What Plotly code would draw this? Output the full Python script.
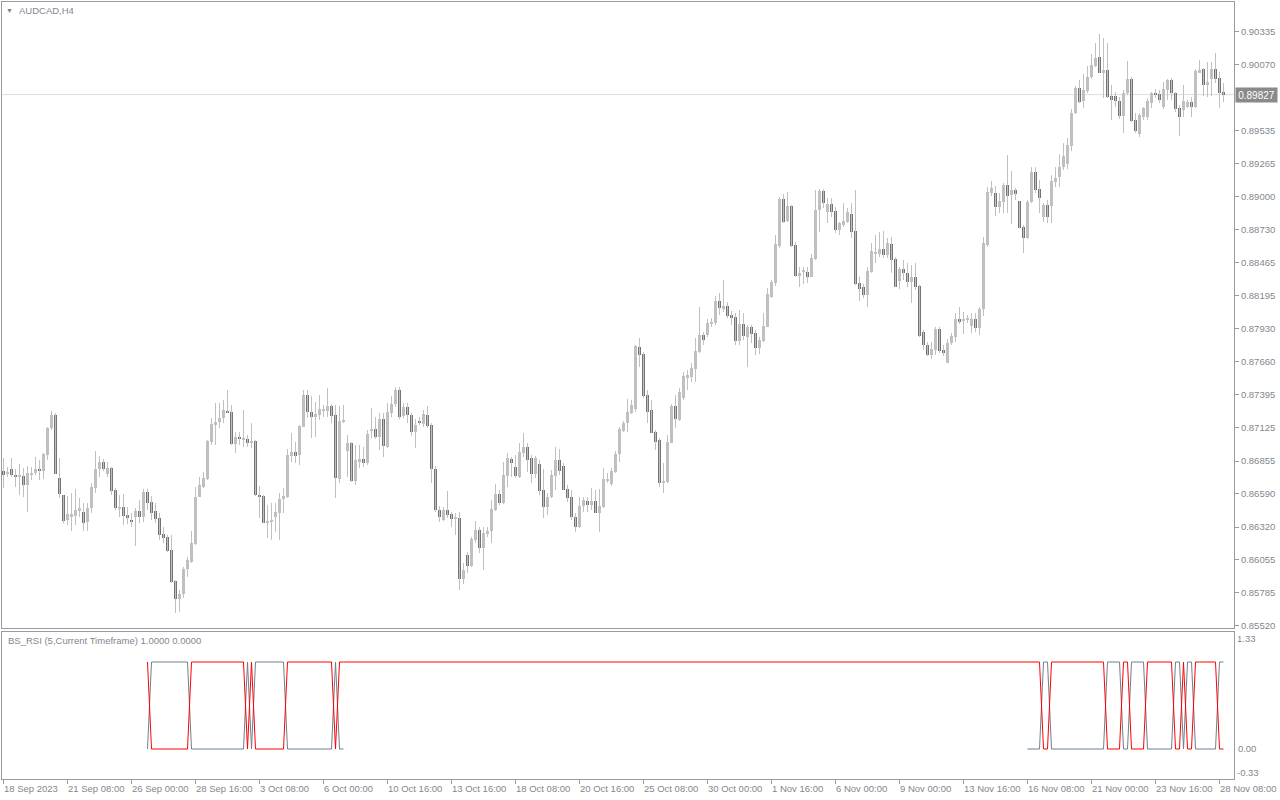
import plotly.graph_objects as go

symbol_title = "AUDCAD,H4"
indicator_title = "BS_RSI (5,Current Timeframe) 1.0000 0.0000"

opens = [
    0.86774, 0.86750, 0.86790, 0.86742, 0.86726, 0.86734, 0.86661, 0.86742, 0.86758, 0.86790,
    0.86774, 0.86904, 0.87123, 0.87228, 0.86717, 0.86580, 0.86377, 0.86409, 0.86409, 0.86450,
    0.86442, 0.86361, 0.86474, 0.86636, 0.86790, 0.86847, 0.86750, 0.86799, 0.86620, 0.86474,
    0.86482, 0.86417, 0.86369, 0.86401, 0.86450, 0.86401, 0.86604, 0.86523, 0.86450, 0.86393,
    0.86263, 0.86239, 0.86133, 0.85882, 0.85736, 0.85777, 0.85980, 0.86037, 0.86182, 0.86563,
    0.86644, 0.86709, 0.87010, 0.87147, 0.87172, 0.87204, 0.87261, 0.87253, 0.86993, 0.87050,
    0.87026, 0.87034, 0.87001, 0.87018, 0.86580, 0.86571, 0.86352, 0.86361, 0.86401, 0.86434,
    0.86547, 0.86563, 0.86896, 0.86928, 0.86904, 0.87131, 0.87390, 0.87253, 0.87212, 0.87228,
    0.87261, 0.87261, 0.87301, 0.87228, 0.86709, 0.87172, 0.86936, 0.87001, 0.86693, 0.86847,
    0.86871, 0.86839, 0.87099, 0.87115, 0.87050, 0.87196, 0.86969, 0.87245, 0.87318, 0.87431,
    0.87220, 0.87293, 0.87228, 0.87090, 0.87180, 0.87155, 0.87228, 0.87147, 0.86790, 0.86458,
    0.86377, 0.86458, 0.86425, 0.86385, 0.86393, 0.85898, 0.86093, 0.86004, 0.86215, 0.86296,
    0.86150, 0.86263, 0.86288, 0.86458, 0.86588, 0.86515, 0.86734, 0.86871, 0.86807, 0.86726,
    0.86920, 0.86969, 0.86880, 0.86750, 0.86831, 0.86620, 0.86482, 0.86563, 0.86734, 0.86863,
    0.86815, 0.86628, 0.86563, 0.86401, 0.86320, 0.86490, 0.86531, 0.86498, 0.86531, 0.86434,
    0.86482, 0.86701, 0.86669, 0.86766, 0.86912, 0.87099, 0.87163, 0.87245, 0.87277, 0.87780,
    0.87723, 0.87390, 0.87269, 0.87090, 0.87026, 0.86677, 0.86685, 0.87001, 0.87301, 0.87188,
    0.87366, 0.87529, 0.87537, 0.87601, 0.87739, 0.87877, 0.87877, 0.87974, 0.87974, 0.88153,
    0.88088, 0.88112, 0.88040, 0.88023, 0.87828, 0.87966, 0.87861, 0.87942, 0.87893, 0.87772,
    0.87828, 0.87942, 0.88185, 0.88299, 0.88599, 0.88980, 0.88802, 0.88923, 0.88607, 0.88358,
    0.88390, 0.88390, 0.88350, 0.88494, 0.88891, 0.89045, 0.88875, 0.88939, 0.88883, 0.88729,
    0.88769, 0.88794, 0.88858, 0.88721, 0.88299, 0.88266, 0.88202, 0.88390, 0.88542, 0.88534,
    0.88575, 0.88526, 0.88615, 0.88494, 0.88315, 0.88413, 0.88382, 0.88307, 0.88350, 0.88274,
    0.87901, 0.87796, 0.87715, 0.87755, 0.87926, 0.87755, 0.87650, 0.87812, 0.87861, 0.88007,
    0.87991, 0.87999, 0.87950, 0.88007, 0.87934, 0.88088, 0.88607, 0.89028, 0.89028, 0.88915,
    0.88956, 0.89093, 0.89012, 0.89053, 0.88964, 0.88753, 0.88664, 0.88956, 0.89198, 0.89061,
    0.88834, 0.88931, 0.88923, 0.89118, 0.89158, 0.89239, 0.89263, 0.89409, 0.89677, 0.89880,
    0.89774, 0.89856, 0.89970, 0.90059, 0.90132, 0.90002, 0.90026, 0.89815, 0.89815, 0.89775,
    0.89653, 0.89840, 0.89953, 0.89621, 0.89507, 0.89645, 0.89645, 0.89758, 0.89840, 0.89832,
    0.89726, 0.89864, 0.89945, 0.89840, 0.89718, 0.89702, 0.89726, 0.89766, 0.89726, 0.90010,
    0.90034, 0.89905, 0.89953, 0.90034, 0.89961, 0.89848,
]

highs = [
    0.86880, 0.86807, 0.86880, 0.86790, 0.86831, 0.86799, 0.86815, 0.86807, 0.86888, 0.86863,
    0.86920, 0.87131, 0.87261, 0.87245, 0.86880, 0.86580, 0.86571, 0.86596, 0.86628, 0.86555,
    0.86515, 0.86515, 0.86677, 0.86936, 0.86896, 0.86871, 0.86847, 0.86807, 0.86636, 0.86580,
    0.86588, 0.86482, 0.86434, 0.86474, 0.86539, 0.86628, 0.86628, 0.86571, 0.86515, 0.86434,
    0.86320, 0.86255, 0.86255, 0.85890, 0.85809, 0.85996, 0.86077, 0.86288, 0.86644, 0.86726,
    0.86766, 0.87026, 0.87204, 0.87326, 0.87326, 0.87350, 0.87431, 0.87309, 0.87090, 0.87090,
    0.87269, 0.87066, 0.87163, 0.87026, 0.86652, 0.86580, 0.86498, 0.86515, 0.86515, 0.86596,
    0.86636, 0.86953, 0.87082, 0.87010, 0.87147, 0.87431, 0.87431, 0.87382, 0.87334, 0.87390,
    0.87309, 0.87447, 0.87318, 0.87309, 0.87301, 0.87309, 0.87066, 0.87010, 0.86985, 0.86985,
    0.86969, 0.87107, 0.87285, 0.87212, 0.87245, 0.87245, 0.87326, 0.87382, 0.87455, 0.87455,
    0.87326, 0.87326, 0.87245, 0.87196, 0.87212, 0.87269, 0.87301, 0.87163, 0.86815, 0.86490,
    0.86482, 0.86612, 0.86442, 0.86434, 0.86442, 0.86029, 0.86117, 0.86239, 0.86369, 0.86320,
    0.86320, 0.86320, 0.86539, 0.86669, 0.86620, 0.86847, 0.86920, 0.86888, 0.86904, 0.87001,
    0.87082, 0.87001, 0.86904, 0.86896, 0.86863, 0.86790, 0.86596, 0.86782, 0.86969, 0.86953,
    0.86839, 0.86661, 0.86620, 0.86434, 0.86563, 0.86563, 0.86563, 0.86636, 0.86620, 0.86628,
    0.86799, 0.86758, 0.86799, 0.86936, 0.87131, 0.87180, 0.87358, 0.87350, 0.87796, 0.87853,
    0.87739, 0.87431, 0.87350, 0.87107, 0.87042, 0.86839, 0.87066, 0.87318, 0.87390, 0.87447,
    0.87577, 0.87593, 0.87650, 0.87853, 0.88104, 0.87901, 0.88007, 0.88015, 0.88193, 0.88218,
    0.88323, 0.88145, 0.88072, 0.88056, 0.88080, 0.88056, 0.87958, 0.87958, 0.87918, 0.87861,
    0.88056, 0.88258, 0.88323, 0.88688, 0.88996, 0.89020, 0.89037, 0.88931, 0.88632, 0.88429,
    0.88429, 0.88429, 0.88534, 0.89053, 0.89061, 0.89061, 0.88988, 0.88988, 0.88915, 0.88794,
    0.88947, 0.88907, 0.88947, 0.89053, 0.88350, 0.88291, 0.88429, 0.88623, 0.88688, 0.88713,
    0.88721, 0.88664, 0.88672, 0.88510, 0.88429, 0.88486, 0.88461, 0.88445, 0.88461, 0.88283,
    0.87918, 0.87820, 0.87820, 0.87942, 0.87942, 0.87796, 0.87845, 0.87893, 0.88056, 0.88104,
    0.88064, 0.88040, 0.88056, 0.88056, 0.88104, 0.88672, 0.89077, 0.89126, 0.89085, 0.89028,
    0.89110, 0.89336, 0.89207, 0.89069, 0.88964, 0.88769, 0.88972, 0.89239, 0.89239, 0.89134,
    0.88947, 0.88972, 0.89174, 0.89239, 0.89344, 0.89433, 0.89474, 0.89710, 0.89897, 0.89945,
    0.89994, 0.90059, 0.90156, 0.90245, 0.90318, 0.90286, 0.90245, 0.89905, 0.89848, 0.89807,
    0.89864, 0.90099, 0.89970, 0.89677, 0.89677, 0.89726, 0.89799, 0.89848, 0.89872, 0.89864,
    0.89929, 0.89953, 0.89961, 0.89848, 0.89742, 0.89905, 0.89783, 0.89807, 0.90034, 0.90107,
    0.90043, 0.90091, 0.90091, 0.90164, 0.90010, 0.89921,
]

lows = [
    0.86636, 0.86726, 0.86726, 0.86644, 0.86580, 0.86563, 0.86442, 0.86701, 0.86742, 0.86701,
    0.86709, 0.86863, 0.87107, 0.86750, 0.86555, 0.86352, 0.86336, 0.86288, 0.86336, 0.86401,
    0.86288, 0.86288, 0.86434, 0.86596, 0.86726, 0.86774, 0.86726, 0.86580, 0.86458, 0.86401,
    0.86336, 0.86344, 0.86320, 0.86166, 0.86352, 0.86361, 0.86458, 0.86377, 0.86352, 0.86215,
    0.86190, 0.86117, 0.85866, 0.85623, 0.85631, 0.85744, 0.85915, 0.86029, 0.86174, 0.86563,
    0.86636, 0.86701, 0.86985, 0.86985, 0.87123, 0.87163, 0.87245, 0.86985, 0.86920, 0.86985,
    0.86969, 0.86969, 0.86961, 0.86571, 0.86393, 0.86352, 0.86231, 0.86215, 0.86280, 0.86215,
    0.86434, 0.86555, 0.86847, 0.86839, 0.86823, 0.87131, 0.87204, 0.87042, 0.87050, 0.87188,
    0.87212, 0.87212, 0.87163, 0.86555, 0.86677, 0.87163, 0.86726, 0.86685, 0.86661, 0.86799,
    0.86807, 0.86823, 0.87042, 0.87034, 0.86945, 0.86888, 0.86961, 0.87212, 0.87293, 0.87196,
    0.87204, 0.87163, 0.87058, 0.86961, 0.87147, 0.87131, 0.87123, 0.86677, 0.86442, 0.86361,
    0.86369, 0.86393, 0.86320, 0.86255, 0.85809, 0.85858, 0.85947, 0.85996, 0.86190, 0.86109,
    0.85971, 0.86239, 0.86190, 0.86450, 0.86498, 0.86506, 0.86644, 0.86726, 0.86717, 0.86717,
    0.86888, 0.86766, 0.86677, 0.86717, 0.86580, 0.86393, 0.86417, 0.86555, 0.86620, 0.86742,
    0.86620, 0.86523, 0.86377, 0.86280, 0.86312, 0.86442, 0.86442, 0.86458, 0.86434, 0.86280,
    0.86474, 0.86677, 0.86652, 0.86758, 0.86847, 0.87090, 0.87090, 0.87236, 0.87253, 0.87618,
    0.87366, 0.87163, 0.87082, 0.86945, 0.86644, 0.86596, 0.86677, 0.87001, 0.87123, 0.87180,
    0.87350, 0.87431, 0.87496, 0.87496, 0.87731, 0.87796, 0.87861, 0.87942, 0.87958, 0.88040,
    0.88064, 0.88015, 0.87958, 0.87796, 0.87796, 0.87836, 0.87618, 0.87812, 0.87715, 0.87723,
    0.87820, 0.87942, 0.88177, 0.88274, 0.88583, 0.88785, 0.88794, 0.88591, 0.88350, 0.88266,
    0.88291, 0.88299, 0.88350, 0.88486, 0.88713, 0.88907, 0.88785, 0.88834, 0.88705, 0.88688,
    0.88753, 0.88785, 0.88664, 0.88283, 0.88153, 0.88177, 0.88104, 0.88382, 0.88461, 0.88510,
    0.88502, 0.88502, 0.88382, 0.88266, 0.88250, 0.88323, 0.88266, 0.88137, 0.88242, 0.87861,
    0.87755, 0.87707, 0.87683, 0.87715, 0.87731, 0.87707, 0.87650, 0.87796, 0.87820, 0.87966,
    0.87885, 0.87974, 0.87893, 0.87901, 0.87877, 0.88031, 0.88591, 0.89004, 0.88842, 0.88866,
    0.88866, 0.88866, 0.88778, 0.88972, 0.88745, 0.88542, 0.88656, 0.88947, 0.89028, 0.88866,
    0.88794, 0.88785, 0.88785, 0.89077, 0.89077, 0.89215, 0.89223, 0.89369, 0.89669, 0.89758,
    0.89718, 0.89840, 0.89953, 0.90051, 0.90002, 0.89799, 0.89799, 0.89621, 0.89726, 0.89629,
    0.89515, 0.89824, 0.89604, 0.89515, 0.89483, 0.89621, 0.89621, 0.89718, 0.89799, 0.89758,
    0.89710, 0.89783, 0.89783, 0.89686, 0.89491, 0.89645, 0.89718, 0.89645, 0.89718, 0.90002,
    0.89815, 0.89807, 0.89815, 0.89921, 0.89718, 0.89767,
]

closes = [
    0.86742, 0.86766, 0.86742, 0.86726, 0.86742, 0.86661, 0.86758, 0.86758, 0.86790, 0.86782,
    0.86912, 0.87123, 0.87228, 0.86750, 0.86588, 0.86369, 0.86425, 0.86425, 0.86458, 0.86474,
    0.86352, 0.86474, 0.86644, 0.86790, 0.86847, 0.86790, 0.86799, 0.86612, 0.86474, 0.86482,
    0.86409, 0.86393, 0.86361, 0.86450, 0.86401, 0.86604, 0.86515, 0.86434, 0.86385, 0.86255,
    0.86231, 0.86125, 0.85874, 0.85736, 0.85777, 0.85980, 0.86053, 0.86190, 0.86563, 0.86661,
    0.86717, 0.87018, 0.87155, 0.87172, 0.87204, 0.87269, 0.87245, 0.86993, 0.87050, 0.87034,
    0.87034, 0.87001, 0.87018, 0.86580, 0.86563, 0.86352, 0.86369, 0.86369, 0.86442, 0.86547,
    0.86571, 0.86904, 0.86928, 0.86896, 0.87139, 0.87390, 0.87253, 0.87212, 0.87236, 0.87277,
    0.87269, 0.87301, 0.87220, 0.86717, 0.87180, 0.87188, 0.87001, 0.86693, 0.86863, 0.86871,
    0.86839, 0.87074, 0.87115, 0.87050, 0.87196, 0.86977, 0.87253, 0.87318, 0.87431, 0.87212,
    0.87293, 0.87228, 0.87090, 0.87147, 0.87163, 0.87236, 0.87139, 0.86790, 0.86458, 0.86401,
    0.86458, 0.86417, 0.86385, 0.86393, 0.85898, 0.85971, 0.86004, 0.86223, 0.86296, 0.86150,
    0.86271, 0.86288, 0.86466, 0.86588, 0.86515, 0.86742, 0.86880, 0.86839, 0.86734, 0.86928,
    0.86969, 0.86863, 0.86750, 0.86880, 0.86612, 0.86482, 0.86563, 0.86742, 0.86863, 0.86774,
    0.86620, 0.86555, 0.86401, 0.86320, 0.86490, 0.86539, 0.86498, 0.86531, 0.86434, 0.86490,
    0.86709, 0.86701, 0.86774, 0.86912, 0.87115, 0.87163, 0.87253, 0.87309, 0.87788, 0.87715,
    0.87382, 0.87253, 0.87082, 0.87010, 0.86677, 0.86693, 0.87010, 0.87301, 0.87196, 0.87415,
    0.87545, 0.87553, 0.87610, 0.87747, 0.87877, 0.87836, 0.87974, 0.87982, 0.88153, 0.88096,
    0.88112, 0.88031, 0.88015, 0.87828, 0.87966, 0.87869, 0.87942, 0.87885, 0.87772, 0.87836,
    0.87950, 0.88210, 0.88307, 0.88615, 0.88980, 0.88794, 0.88923, 0.88599, 0.88358, 0.88382,
    0.88390, 0.88350, 0.88502, 0.88891, 0.89045, 0.88947, 0.88939, 0.88875, 0.88729, 0.88785,
    0.88802, 0.88875, 0.88713, 0.88291, 0.88250, 0.88202, 0.88396, 0.88558, 0.88550, 0.88575,
    0.88526, 0.88623, 0.88486, 0.88266, 0.88413, 0.88382, 0.88307, 0.88350, 0.88266, 0.87869,
    0.87796, 0.87715, 0.87764, 0.87926, 0.87747, 0.87739, 0.87812, 0.87869, 0.88007, 0.87982,
    0.88007, 0.88007, 0.88007, 0.87934, 0.88088, 0.88623, 0.89037, 0.89069, 0.88915, 0.88964,
    0.89093, 0.89004, 0.89053, 0.89020, 0.88745, 0.88664, 0.88956, 0.89198, 0.89053, 0.88988,
    0.88931, 0.88834, 0.89126, 0.89150, 0.89239, 0.89328, 0.89417, 0.89677, 0.89880, 0.89766,
    0.89864, 0.89970, 0.90067, 0.90124, 0.90002, 0.90026, 0.89807, 0.89783, 0.89775, 0.89653,
    0.89840, 0.89953, 0.89612, 0.89532, 0.89661, 0.89718, 0.89775, 0.89840, 0.89824, 0.89783,
    0.89872, 0.89945, 0.89840, 0.89710, 0.89645, 0.89775, 0.89766, 0.89726, 0.90018, 0.90026,
    0.89905, 0.89929, 0.90034, 0.89953, 0.89840, 0.89827,
]

N = None
# BS_RSI buffers (1 = upper level, 0 = lower level), one value per bar
bs_rsi_red = [
    N, N, N, N, N, N, N, N, N, N,
    N, N, N, N, N, N, N, N, N, N,
    N, N, N, N, N, N, N, N, N, N,
    N, N, N, N, N, N, 1, 0, 0, 0,
    0, 0, 0, 0, 0, 0, 0, 1, 1, 1,
    1, 1, 1, 1, 1, 1, 1, 1, 1, 1,
    1, 0, 1, 0, 0, 0, 0, 0, 0, 0,
    0, 1, 1, 1, 1, 1, 1, 1, 1, 1,
    1, 1, 1, 0, 1, 1, 1, 1, 1, 1,
    1, 1, 1, 1, 1, 1, 1, 1, 1, 1,
    1, 1, 1, 1, 1, 1, 1, 1, 1, 1,
    1, 1, 1, 1, 1, 1, 1, 1, 1, 1,
    1, 1, 1, 1, 1, 1, 1, 1, 1, 1,
    1, 1, 1, 1, 1, 1, 1, 1, 1, 1,
    1, 1, 1, 1, 1, 1, 1, 1, 1, 1,
    1, 1, 1, 1, 1, 1, 1, 1, 1, 1,
    1, 1, 1, 1, 1, 1, 1, 1, 1, 1,
    1, 1, 1, 1, 1, 1, 1, 1, 1, 1,
    1, 1, 1, 1, 1, 1, 1, 1, 1, 1,
    1, 1, 1, 1, 1, 1, 1, 1, 1, 1,
    1, 1, 1, 1, 1, 1, 1, 1, 1, 1,
    1, 1, 1, 1, 1, 1, 1, 1, 1, 1,
    1, 1, 1, 1, 1, 1, 1, 1, 1, 1,
    1, 1, 1, 1, 1, 1, 1, 1, 1, 1,
    1, 1, 1, 1, 1, 1, 1, 1, 1, 1,
    1, 1, 1, 1, 1, 1, 1, 1, 1, 1,
    0, 0, 1, 1, 1, 1, 1, 1, 1, 1,
    1, 1, 1, 1, 1, 1, 0, 0, 0, 0,
    1, 1, 0, 0, 0, 0, 1, 1, 1, 1,
    1, 1, 1, 0, 0, 1, 0, 0, 1, 1,
    1, 1, 1, 1, 0, 0,
]

bs_rsi_gray = [
    N, N, N, N, N, N, N, N, N, N,
    N, N, N, N, N, N, N, N, N, N,
    N, N, N, N, N, N, N, N, N, N,
    N, N, N, N, N, N, 0, 1, 1, 1,
    1, 1, 1, 1, 1, 1, 1, 0, 0, 0,
    0, 0, 0, 0, 0, 0, 0, 0, 0, 0,
    0, 1, 0, 1, 1, 1, 1, 1, 1, 1,
    1, 0, 0, 0, 0, 0, 0, 0, 0, 0,
    0, 0, 0, 1, 0, 0, N, N, N, N,
    N, N, N, N, N, N, N, N, N, N,
    N, N, N, N, N, N, N, N, N, N,
    N, N, N, N, N, N, N, N, N, N,
    N, N, N, N, N, N, N, N, N, N,
    N, N, N, N, N, N, N, N, N, N,
    N, N, N, N, N, N, N, N, N, N,
    N, N, N, N, N, N, N, N, N, N,
    N, N, N, N, N, N, N, N, N, N,
    N, N, N, N, N, N, N, N, N, N,
    N, N, N, N, N, N, N, N, N, N,
    N, N, N, N, N, N, N, N, N, N,
    N, N, N, N, N, N, N, N, N, N,
    N, N, N, N, N, N, N, N, N, N,
    N, N, N, N, N, N, N, N, N, N,
    N, N, N, N, N, N, N, N, N, N,
    N, N, N, N, N, N, N, N, N, N,
    N, N, N, N, N, N, 0, 0, 0, 0,
    1, 1, 0, 0, 0, 0, 0, 0, 0, 0,
    0, 0, 0, 0, 0, 0, 1, 1, 1, 1,
    0, 0, 1, 1, 1, 1, 0, 0, 0, 0,
    0, 0, 0, 1, 1, 0, 1, 1, 0, 0,
    0, 0, 0, 0, 1, 1,
]

date_label_bars = [0, 16, 32, 48, 64, 80, 96, 112, 128, 144,
                   160, 176, 192, 208, 224, 240, 256, 272, 288, 304]
date_labels = ["18 Sep 2023", "21 Sep 08:00", "26 Sep 00:00", "28 Sep 16:00",
               "3 Oct 08:00", "6 Oct 00:00", "10 Oct 16:00", "13 Oct 16:00",
               "18 Oct 08:00", "20 Oct 16:00", "25 Oct 08:00", "30 Oct 00:00",
               "1 Nov 16:00", "6 Nov 00:00", "9 Nov 00:00", "13 Nov 16:00",
               "16 Nov 08:00", "21 Nov 00:00", "23 Nov 16:00", "28 Nov 08:00"]
# 0.89800 level is covered by the current-price box, so it is not labelled
price_ticks = [0.90335, 0.90070, 0.89535, 0.89265, 0.89000, 0.88730, 0.88465,
               0.88195, 0.87930, 0.87660, 0.87395, 0.87125, 0.86855, 0.86590, 0.86320,
               0.86055, 0.85785, 0.85520]
indicator_ticks = [0.0]
indicator_range_labels = ["1.33", "-0.33"]

# ---------------- styling ----------------
FONT = "Liberation Sans, Arial, sans-serif"
TXT = "#7f8790"
FRAME = "#9a9aa2"
BULL = "#c0c0c0"
BEAR = "#747474"
WICK = "#c0c0c0"

W, H = 1280, 800
L_M, R_M, T_M, B_M = 2, 46, 2, 21
plot_h = H - T_M - B_M          # 777
main_bottom_px = 628
lower_top_px = 632
main_dom = [(H - B_M - main_bottom_px) / plot_h, 1.0]
lower_dom = [0.0, (H - B_M - lower_top_px) / plot_h]

n = len(closes)
idx = list(range(n))

# wicks
wx, wy = [], []
for i in idx:
    wx += [i, i, None]
    wy += [lows[i], highs[i], None]

body_base = [min(o, c) for o, c in zip(opens, closes)]
body_h = [max(abs(c - o), 0.00009) for o, c in zip(opens, closes)]
body_col = [BULL if c >= o else BEAR for o, c in zip(opens, closes)]

fig = go.Figure()
fig.add_trace(go.Scatter(x=wx, y=wy, mode="lines", line=dict(color=WICK, width=1),
                         xaxis="x", yaxis="y", hoverinfo="skip", showlegend=False))
fig.add_trace(go.Bar(x=idx, y=body_h, base=body_base, width=0.75,
                     marker=dict(color=body_col, line=dict(width=0)),
                     xaxis="x", yaxis="y", hoverinfo="skip", showlegend=False))
fig.add_trace(go.Scatter(x=idx, y=bs_rsi_gray, mode="lines", connectgaps=False,
                         line=dict(color="#6f7f8f", width=1),
                         xaxis="x2", yaxis="y2", hoverinfo="skip", showlegend=False))
fig.add_trace(go.Scatter(x=idx, y=bs_rsi_red, mode="lines", connectgaps=False,
                         line=dict(color="#ff0000", width=1),
                         xaxis="x2", yaxis="y2", hoverinfo="skip", showlegend=False))

last_price = closes[-1]
x_range = [-0.375, 307.625]

annotations = [
    dict(text="▼", xref="paper", yref="paper", x=0.0015, y=(H - B_M - 10) / plot_h,
         xanchor="left", yanchor="middle", showarrow=False,
         font=dict(family=FONT, size=7, color="#808080")),
    dict(text=symbol_title, xref="paper", yref="paper", x=(17 - L_M) / 1232,
         y=(H - B_M - 10) / plot_h, xanchor="left", yanchor="middle", showarrow=False,
         font=dict(family=FONT, size=9.5, color=TXT)),
    dict(text=indicator_title, xref="paper", yref="paper", x=(6 - L_M) / 1232,
         y=(H - B_M - 640.5) / plot_h, xanchor="left", yanchor="middle", showarrow=False,
         font=dict(family=FONT, size=9.5, color=TXT)),
    dict(text=f"{last_price:.5f}", xref="paper", yref="y", x=1.0, y=last_price,
         xanchor="left", yanchor="middle", xshift=1, showarrow=False,
         width=39, height=12, align="center",
         bgcolor="#8a8a8a", borderpad=1,
         font=dict(family=FONT, size=10, color="#ffffff")),
    dict(text=indicator_range_labels[0], xref="paper", yref="paper", x=1.0,
         y=(H - B_M - 638) / plot_h, xanchor="left", yanchor="middle", xshift=1,
         showarrow=False, font=dict(family=FONT, size=9.5, color=TXT)),
    dict(text=indicator_range_labels[1], xref="paper", yref="paper", x=1.0,
         y=(H - B_M - 772) / plot_h, xanchor="left", yanchor="middle", xshift=1,
         showarrow=False, font=dict(family=FONT, size=9.5, color=TXT)),
]
for b, lab in zip(date_label_bars, date_labels):
    annotations.append(dict(text=lab, xref="x2", yref="paper", x=b,
                            y=(H - B_M - 789) / plot_h, xanchor="left", yanchor="middle",
                            xshift=-2, showarrow=False,
                            font=dict(family=FONT, size=9.5, color=TXT)))

shapes = [
    dict(type="line", xref="x domain", yref="y", x0=0, x1=1, y0=last_price, y1=last_price,
         line=dict(color="#dcdcdc", width=1), layer="below"),
]

axis_common = dict(showgrid=False, zeroline=False, fixedrange=True,
                   showline=True, linecolor=FRAME, linewidth=1, mirror=True)

fig.update_layout(
    width=W, height=H,
    margin=dict(l=L_M, r=R_M, t=T_M, b=B_M, pad=0, autoexpand=False),
    paper_bgcolor="white", plot_bgcolor="white",
    barmode="overlay", bargap=0, showlegend=False,
    font=dict(family=FONT, size=9.5, color=TXT),
    xaxis=dict(domain=[0, 1], range=x_range, anchor="y", showticklabels=False,
               ticks="", **axis_common),
    yaxis=dict(domain=main_dom, range=[0.85501, 0.90578], side="right", anchor="x",
               tickvals=price_ticks, ticktext=[f"{v:.5f}" for v in price_ticks],
               ticks="outside", ticklen=4, tickcolor=FRAME,
               tickfont=dict(family=FONT, size=9.5, color=TXT), **axis_common),
    xaxis2=dict(domain=[0, 1], range=x_range, anchor="y2", showticklabels=False,
                tickvals=date_label_bars, ticks="outside", ticklen=4, tickcolor=FRAME,
                **axis_common),
    yaxis2=dict(domain=lower_dom, range=[-0.3448, 1.3448], side="right", anchor="x2",
                tickvals=indicator_ticks, ticktext=["0.00"], ticks="outside", ticklen=1,
                tickcolor="rgba(0,0,0,0)",
                tickfont=dict(family=FONT, size=9.5, color=TXT), **axis_common),
    annotations=annotations,
    shapes=shapes,
)

fig.write_html(
    "out.html",
    config={"displayModeBar": False},
    post_script="document.body.style.margin='0';document.body.style.overflow='hidden';",
)
